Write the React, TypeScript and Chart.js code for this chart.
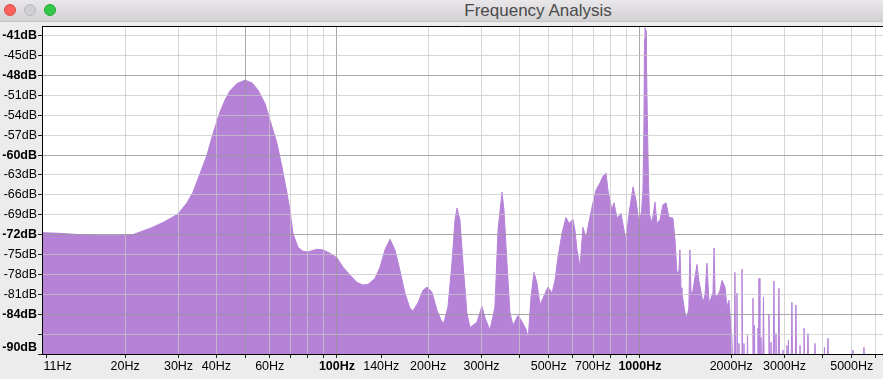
import React, { useEffect, useRef } from "react";
import { Chart, registerables } from "chart.js";

Chart.register(...registerables);

// ---- spectrum (frequency in Hz, level in dB) ----
const lowBandHz = [10.63, 12.18, 14.18, 16.51, 19.22, 21.22, 22.38, 24.33, 26.86, 29.87, 31.99, 33.48, 35.31, 37.24, 38.97, 41.11, 42.7, 44.36, 46.77, 49.71, 52.43, 54.87, 57.86, 60.09, 63.39, 65.85, 68.39, 69.97];
const lowBandDb = [-71.7, -71.8, -72.0, -72.1, -72.1, -72.0, -71.6, -71.0, -70.1, -68.9, -67.2, -65.6, -62.8, -60.0, -56.8, -53.5, -51.7, -50.3, -49.2, -48.7, -49.1, -50.2, -52.2, -54.7, -58.2, -61.8, -65.7, -68.3];

const midBandHz = [71.58, 74.35, 77.23, 80.22, 85.9, 89.9, 94.8, 100, 104.7, 110.4, 116.4, 121.8, 126.6, 133.5, 138.7, 144.0, 149.6, 155.4, 161.4, 167.6, 174.1, 178.1, 185.0, 192.2, 198.2, 205.9, 213.8, 222.1, 225.5, 232.5, 239.6, 245.2, 248.9, 254.6, 260.5, 268.5, 274.7, 289.7, 300.9, 307.8, 319.8, 332.2, 340.0, 350.5, 355.8, 364.0, 372.4, 381.0, 395.8, 404, 411, 420, 428, 436.9, 447.0, 457.2, 467.7, 478.6, 497.1, 512.5, 524.3, 536.4, 553.0, 570.0, 583.2, 601.0, 610.2, 619.6, 633.9, 648.5, 663.4, 678.7, 699.7, 715.8, 737.9, 755.0, 772.4, 784.3, 808.5, 820.9, 839.8, 865.8, 885.7, 899.3, 920.1, 948.5, 970.0, 992.4];
const midBandDb = [-71.8, -73.9, -74.5, -74.6, -74.2, -74.3, -74.8, -75.5, -76.9, -78.1, -79.2, -79.6, -79.5, -78.6, -76.9, -74.3, -72.7, -74.3, -77.4, -80.8, -83.1, -83.5, -82.3, -80.4, -79.9, -80.7, -83.4, -85.2, -85.2, -82.9, -76.3, -69.8, -68.0, -69.8, -76.3, -83.8, -86.0, -85.2, -82.8, -84.5, -86.4, -82.9, -71.3, -65.6, -68.3, -76.3, -83.8, -85.7, -84.2, -84.8, -85.4, -86.2, -87.5, -81.4, -77.7, -79.3, -82.6, -81.6, -79.9, -80.8, -78.9, -75.4, -71.8, -69.4, -70.3, -69.7, -71.3, -74.3, -76.9, -70.9, -72.5, -70.1, -67.2, -65.3, -64.2, -63.2, -62.7, -65.3, -68.3, -67.2, -69.5, -68.8, -71.3, -72.8, -68.8, -64.8, -66.8, -70.1];

const toneBandHz = [1012, 1023, 1031, 1035, 1039, 1047, 1051, 1059, 1067, 1075, 1096, 1121, 1138, 1164, 1191, 1219, 1247, 1285, 1305, 1325, 1345, 1355, 1366, 1376, 1408, 1430, 1450, 1462, 1474, 1496, 1542, 1565, 1614, 1640, 1664, 1690, 1742, 1756, 1770, 1795, 1837, 1865, 1908, 1937, 1967, 1997, 2012, 2025];
const toneBandDb = [-68.5, -65.3, -55.0, -42.5, -40.8, -41.3, -46.4, -56.0, -64.0, -69.0, -70.3, -67.1, -70.3, -69.8, -67.5, -67.2, -69.4, -69.5, -72.8, -77.8, -77.5, -74.3, -80.0, -80.8, -83.8, -84.6, -83.0, -74.3, -81.0, -80.4, -76.5, -78.9, -82.3, -81.0, -76.3, -82.3, -80.8, -74.0, -81.0, -81.4, -80.4, -78.9, -79.9, -82.9, -81.9, -86.0, -87.5, -95];

// harmonics above 2 kHz: each one a thin line rising from below the -90 dB floor
const harmonicHz = [2043, 2058, 2072, 2082, 2090, 2100, 2112, 2122, 2132, 2156, 2171, 2186, 2194, 2204, 2214, 2250, 2264, 2278, 2344, 2360, 2374, 2378, 2388, 2400, 2440, 2452, 2460, 2464, 2471, 2488, 2496, 2508, 2520, 2538, 2556, 2574, 2646, 2665, 2684, 2690, 2706, 2722, 2748, 2768, 2788, 2795, 2811, 2827, 2853, 2875, 2897, 2946, 2964, 2982, 3035, 3055, 3072, 3076, 3090, 3110, 3150, 3173, 3196, 3246, 3271, 3296, 3350, 3374, 3398, 3452, 3478, 3504, 3558, 3585, 3612, 3752, 3781, 3810, 4032, 4063, 4094, 4141, 4173, 4205, 5009, 5047, 5085, 5444, 5486, 5528, 6340];
const harmonicDb = [-95, -77.7, -95, -95, -80.8, -95, -95, -88.4, -95, -95, -77.2, -95, -95, -88.4, -95, -95, -87.2, -95, -95, -81.6, -95, -95, -85.7, -95, -95, -86.1, -95, -95, -78.6, -95, -95, -87.5, -95, -95, -81.4, -95, -95, -84.0, -95, -95, -88.2, -95, -95, -79.0, -95, -95, -86.9, -95, -95, -80.1, -95, -95, -89.4, -95, -95, -88.7, -95, -95, -87.9, -95, -95, -82.2, -95, -95, -82.6, -95, -95, -88.7, -95, -95, -86.1, -95, -95, -86.9, -95, -95, -88.4, -95, -95, -89.0, -95, -95, -87.6, -95, -95, -89.4, -95, -95, -89.0, -95, -95];

// ---- axes ----
const X_MIN = 10.63;
const X_MAX = 6340;
const Y_MIN = -90;
const Y_MAX = -40.53;

const xTickHz = [11, 20, 30, 40, 50, 60, 70, 80, 90, 100, 140, 200, 300, 400, 500, 600, 700, 800, 900, 1000, 2000, 3000, 4000, 5000, 6000];
const xLabelHz = [11, 20, 30, 40, 60, 100, 140, 200, 300, 500, 700, 1000, 2000, 3000, 5000];
const xLabelText = ["11Hz", "20Hz", "30Hz", "40Hz", "60Hz", "100Hz", "140Hz", "200Hz", "300Hz", "500Hz", "700Hz", "1000Hz", "2000Hz", "3000Hz", "5000Hz"];
const xBoldHz = [100, 1000];
const xMajorGridHz = [50, 100, 1000];
const xNoGridHz = [11, 140];

const yTickDb = [-42, -45, -48, -51, -54, -57, -60, -63, -66, -69, -72, -75, -78, -81, -84, -87, -90];
const yLabelText = ["-41dB", "-45dB", "-48dB", "-51dB", "-54dB", "-57dB", "-60dB", "-63dB", "-66dB", "-69dB", "-72dB", "-75dB", "-78dB", "-81dB", "-84dB", "", "-90dB"];
const yBoldDb = [-42, -48, -60, -72, -84, -90];
const yMajorGridDb = [-48, -60, -72, -84];

const FILL = "rgb(182,130,216)";
const GRID_MINOR = "rgba(200,200,200,0.72)";
const GRID_MAJOR = "rgba(150,150,150,0.82)";
const FONT = '"Liberation Sans", Arial, sans-serif';

const plotBackgroundPlugin = {
  id: "plotBackgroundPlugin",
  beforeDraw(chart: any) {
    const { ctx, chartArea } = chart;
    ctx.save();
    ctx.fillStyle = "#ffffff";
    ctx.fillRect(chartArea.left, chartArea.top, chartArea.right - chartArea.left, chartArea.bottom - chartArea.top);
    ctx.restore();
  },
};

const axisLabelPlugin = {
  id: "axisLabelPlugin",
  afterDraw(chart: any) {
    const { ctx, chartArea, scales } = chart;
    const xs = scales.x;
    const ys = scales.y;
    ctx.save();
    ctx.strokeStyle = "#000";
    ctx.lineWidth = 1;
    ctx.beginPath();
    ctx.moveTo(chartArea.left, Math.round(chartArea.top) + 0.5);
    ctx.lineTo(chartArea.right, Math.round(chartArea.top) + 0.5);
    ctx.stroke();

    ctx.fillStyle = "#000";
    ctx.textBaseline = "middle";
    ctx.textAlign = "right";
    yTickDb.forEach((v, i) => {
      const text = yLabelText[i];
      if (!text) return;
      let py = ys.getPixelForValue(v);
      if (v === Y_MIN) py -= 6;
      ctx.font = `${yBoldDb.includes(v) ? "bold " : ""}12.5px ${FONT}`;
      ctx.fillText(text, chartArea.left - 5, py);
    });
    xLabelHz.forEach((v, i) => {
      const px = xs.getPixelForValue(v);
      ctx.font = `${xBoldHz.includes(v) ? "bold " : ""}12.5px ${FONT}`;
      if (i === 0) {
        ctx.textAlign = "left";
        ctx.fillText(xLabelText[i], px - 3, chartArea.bottom + 13);
      } else {
        ctx.textAlign = "center";
        ctx.fillText(xLabelText[i], px, chartArea.bottom + 13);
      }
    });
    ctx.restore();
  },
};

function buildPoints() {
  const hz = [...lowBandHz, ...midBandHz, ...toneBandHz, ...harmonicHz];
  const db = [...lowBandDb, ...midBandDb, ...toneBandDb, ...harmonicDb];
  return hz.map((f, i) => ({ x: f, y: db[i] }));
}

function SpectrumChart() {
  const ref = useRef<HTMLCanvasElement | null>(null);
  useEffect(() => {
    if (!ref.current) return;
    const chart = new Chart(ref.current, {
      type: "line",
      data: {
        datasets: [
          {
            data: buildPoints(),
            fill: "start",
            backgroundColor: FILL,
            borderColor: FILL,
            borderWidth: 1,
            pointRadius: 0,
            tension: 0,
          },
        ],
      },
      plugins: [plotBackgroundPlugin, axisLabelPlugin],
      options: {
        animation: false,
        responsive: false,
        devicePixelRatio: 1,
        events: [],
        layout: { padding: { top: 4, left: 0, right: 0, bottom: 0 } },
        plugins: { legend: { display: false }, tooltip: { enabled: false }, title: { display: false } },
        scales: {
          x: {
            type: "logarithmic",
            min: X_MIN,
            max: X_MAX,
            afterBuildTicks: (scale: any) => {
              scale.ticks = xTickHz.map((v) => ({ value: v }));
            },
            afterFit: (scale: any) => {
              scale.height = 25;
            },
            ticks: { display: false },
            grid: {
              z: 1,
              drawTicks: true,
              tickLength: 4,
              tickColor: "#222",
              color: (c: any) => {
                const v = c.tick && c.tick.value;
                if (xNoGridHz.includes(v)) return "rgba(0,0,0,0)";
                if (xMajorGridHz.includes(v)) return GRID_MAJOR;
                return GRID_MINOR;
              },
            },
            border: { display: true, color: "#000", width: 1, z: 2 },
          },
          y: {
            type: "linear",
            min: Y_MIN,
            max: Y_MAX,
            afterBuildTicks: (scale: any) => {
              scale.ticks = yTickDb.map((v) => ({ value: v }));
            },
            afterFit: (scale: any) => {
              scale.width = 42;
            },
            ticks: { display: false },
            grid: {
              z: 1,
              drawTicks: true,
              tickLength: 4,
              tickColor: "#222",
              color: (c: any) => {
                const v = c.tick && c.tick.value;
                if (v === Y_MIN) return "rgba(0,0,0,0)";
                if (yMajorGridDb.includes(v)) return GRID_MAJOR;
                return GRID_MINOR;
              },
            },
            border: { display: true, color: "#000", width: 1, z: 2 },
          },
        },
      },
    });
    return () => chart.destroy();
  }, []);
  return (
    <canvas
      ref={ref}
      width={883}
      height={357}
      style={{ position: "absolute", left: 0, top: 22, width: 883, height: 357 }}
    />
  );
}

function Light({ left, color, border }: { left: number; color: string; border: string }) {
  return (
    <div
      style={{
        position: "absolute",
        left,
        top: 4,
        width: 12,
        height: 12,
        borderRadius: "50%",
        background: color,
        border: `0.5px solid ${border}`,
        boxSizing: "border-box",
      }}
    />
  );
}

export default function App() {
  return (
    <div
      style={{
        position: "fixed",
        left: 0,
        top: 0,
        width: 883,
        height: 379,
        overflow: "hidden",
        background: "#ececec",
      }}
    >
      <div
        style={{
          position: "absolute",
          left: 0,
          top: 0,
          width: 883,
          height: 22,
          background: "linear-gradient(#e9e7e9, #d3d1d3)",
          borderBottom: "1px solid #c4c4c4",
          boxSizing: "border-box",
        }}
      >
        <Light left={4} color="#fc605c" border="#de4a46" />
        <Light left={24} color="#d0cfd1" border="#b9b8ba" />
        <Light left={44} color="#34c84a" border="#27a737" />
        <div
          style={{
            position: "absolute",
            left: 538,
            top: 0,
            transform: "translateX(-50%)",
            lineHeight: "21px",
            fontSize: 17,
            fontFamily: FONT,
            color: "#4b4b4b",
            whiteSpace: "nowrap",
          }}
        >
          Frequency Analysis
        </div>
      </div>
      <SpectrumChart />
    </div>
  );
}
